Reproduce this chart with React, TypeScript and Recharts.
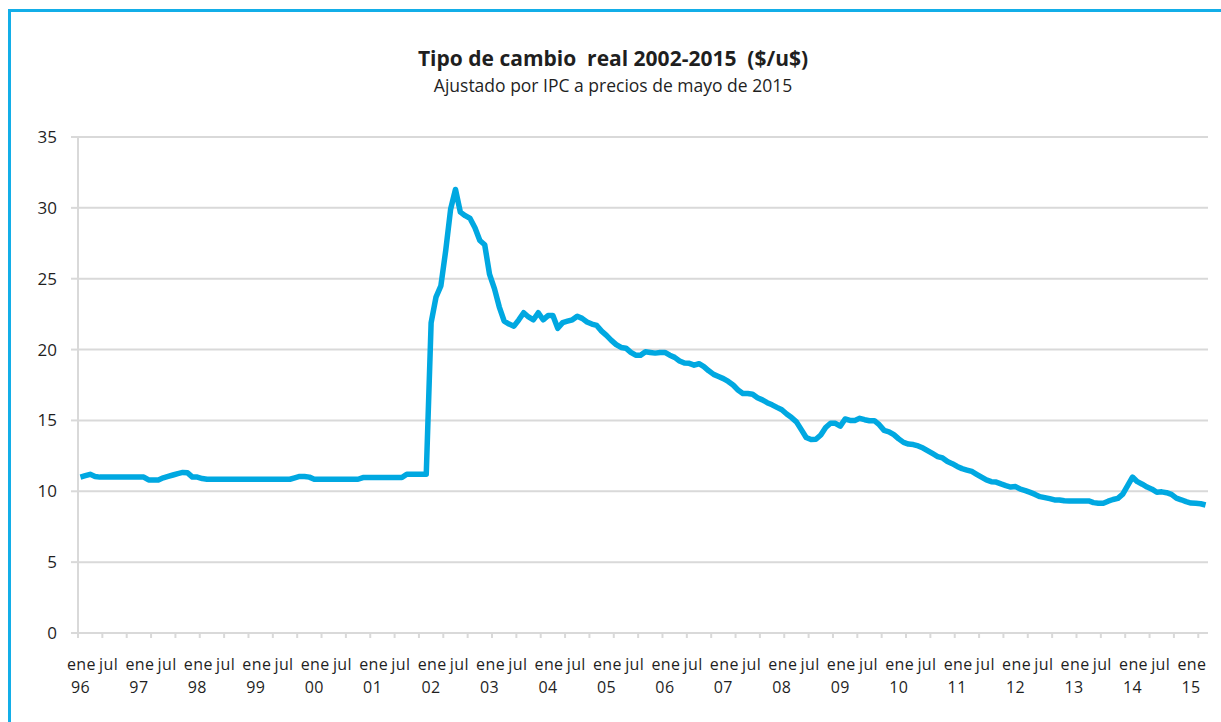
import { LineChart, Line, XAxis, YAxis, CartesianGrid } from 'recharts'

// tipo de cambio real mensual, $/u$ a precios de mayo 2015
const y1996 = [11.0, 11.1, 11.2, 11.05, 11.0, 11.0, 11.0, 11.0, 11.0, 11.0, 11.0, 11.0]
const y1997 = [11.0, 11.0, 10.8, 10.8, 10.8, 10.95, 11.05, 11.15, 11.25, 11.33, 11.3, 11.0]
const y1998 = [11.0, 10.9, 10.85, 10.85, 10.85, 10.85, 10.85, 10.85, 10.85, 10.85, 10.85, 10.85]
const y1999 = [10.85, 10.85, 10.85, 10.85, 10.85, 10.85, 10.85, 10.85, 10.95, 11.05, 11.05, 11.0]
const y2000 = [10.85, 10.85, 10.85, 10.85, 10.85, 10.85, 10.85, 10.85, 10.85, 10.85, 10.97, 10.97]
const y2001 = [10.97, 10.97, 10.97, 10.97, 10.97, 10.97, 10.97, 11.2, 11.2, 11.2, 11.2, 11.2]
const y2002 = [21.9, 23.7, 24.5, 27.0, 29.9, 31.3, 29.7, 29.45, 29.25, 28.6, 27.7, 27.4]
const y2003 = [25.3, 24.3, 23.0, 22.0, 21.8, 21.65, 22.1, 22.6, 22.3, 22.1, 22.6, 22.1]
const y2004 = [22.4, 22.4, 21.5, 21.9, 22.0, 22.1, 22.35, 22.2, 21.95, 21.8, 21.7, 21.3]
const y2005 = [21.0, 20.65, 20.35, 20.15, 20.1, 19.8, 19.6, 19.6, 19.85, 19.8, 19.75, 19.8]
const y2006 = [19.8, 19.6, 19.45, 19.2, 19.05, 19.03, 18.9, 19.0, 18.8, 18.5, 18.25, 18.1]
const y2007 = [17.95, 17.75, 17.5, 17.15, 16.9, 16.9, 16.85, 16.6, 16.45, 16.25, 16.1, 15.92]
const y2008 = [15.75, 15.45, 15.2, 14.9, 14.35, 13.8, 13.65, 13.67, 13.97, 14.5, 14.8, 14.8]
const y2009 = [14.6, 15.1, 15.0, 15.0, 15.15, 15.05, 14.98, 14.98, 14.7, 14.3, 14.2, 14.0]
const y2010 = [13.7, 13.45, 13.33, 13.3, 13.2, 13.05, 12.85, 12.65, 12.45, 12.35, 12.1, 11.95]
const y2011 = [11.75, 11.6, 11.5, 11.4, 11.2, 11.0, 10.8, 10.68, 10.65, 10.52, 10.4, 10.3]
const y2012 = [10.33, 10.15, 10.05, 9.92, 9.78, 9.62, 9.55, 9.48, 9.39, 9.39, 9.33, 9.32]
const y2013 = [9.32, 9.32, 9.32, 9.32, 9.2, 9.15, 9.15, 9.3, 9.42, 9.5, 9.8, 10.4]
const y2014 = [11.0, 10.68, 10.5, 10.3, 10.15, 9.93, 9.96, 9.9, 9.78, 9.52, 9.4, 9.27]
const y2015 = [9.17, 9.15, 9.12, 9.03]

const SERIES = [
  y1996, y1997, y1998, y1999, y2000, y2001, y2002, y2003, y2004, y2005,
  y2006, y2007, y2008, y2009, y2010, y2011, y2012, y2013, y2014, y2015,
]
const YEAR_LABELS = ['96', '97', '98', '99', '00', '01', '02', '03', '04', '05', '06', '07', '08', '09', '10', '11', '12', '13', '14', '15']
const MONTH_LABELS = ['ene', 'feb', 'mar', 'abr', 'may', 'jun', 'jul', 'ago', 'sep', 'oct', 'nov', 'dic']
const Y_TICKS = [0, 5, 10, 15, 20, 25, 30, 35]

const TITLE = 'Tipo de cambio  real 2002-2015  ($/u$)'
const SUBTITLE = 'Ajustado por IPC a precios de mayo de 2015'

const data = SERIES.flat().map((v, i) => ({ idx: i, tcr: v }))
const last = data.length - 1

// etiquetas ene/jul en el centro de cada mes, marcas cada 5 meses entre categorías
const labelTicks = data.filter(d => d.idx % 6 === 0).map(d => d.idx)
const markTicks: number[] = []
for (let k = 0; k * 5 <= last; k++) markTicks.push(k * 5 - 0.5)
const xTicks = [...labelTicks, ...markTicks].sort((a, b) => a - b)

const FONT = "'Open Sans', 'DejaVu Sans', sans-serif"
const TEXT = '#1f1f1f'
const GRID = '#d9d9d9'
const BLUE = '#00a8e1'

function MonthTick(props: any) {
  const { x, y, payload } = props
  const v = payload.value as number
  if (!Number.isInteger(v)) {
    return <line x1={x} x2={x} y1={y} y2={y + 5} stroke={GRID} strokeWidth={2} />
  }
  const m = v % 12
  return (
    <g fontFamily={FONT} fontSize={16} fill={TEXT}>
      <text x={m === 0 ? x + 1 : x - 1} y={y + 37} textAnchor="middle" letterSpacing={0.4}>
        {MONTH_LABELS[m]}
      </text>
      {m === 0 && (
        <text x={x} y={y + 60} textAnchor="middle" letterSpacing={0.4}>
          {YEAR_LABELS[Math.floor(v / 12)]}
        </text>
      )}
    </g>
  )
}

export default function App() {
  return (
    <div style={{ position: 'absolute', left: 0, top: 0, width: 1221, height: 722, overflow: 'hidden', background: '#fff' }}>
      <div
        style={{
          position: 'absolute',
          left: 8,
          top: 9,
          width: 1400,
          height: 900,
          border: `3px solid #13aee8`,
          boxSizing: 'border-box',
        }}
      />
      <LineChart
        width={1221}
        height={722}
        data={data}
        margin={{ top: 137, right: 13, bottom: 19, left: 18 }}
        style={{ position: 'absolute', left: 0, top: 0 }}
      >
        <CartesianGrid vertical={false} stroke={GRID} strokeWidth={2} />
        <XAxis
          dataKey="idx"
          type="number"
          domain={[-0.5, last + 0.5]}
          ticks={xTicks}
          interval={0}
          height={70}
          tickLine={false}
          tickSize={0}
          tickMargin={0}
          axisLine={{ stroke: GRID, strokeWidth: 2 }}
          tick={MonthTick}
        />
        <YAxis
          domain={[0, 35]}
          ticks={Y_TICKS}
          interval={0}
          width={60}
          tickSize={7}
          tickMargin={14}
          tickLine={{ stroke: GRID, strokeWidth: 2 }}
          axisLine={{ stroke: GRID, strokeWidth: 2 }}
          tick={{ fontFamily: FONT, fontSize: 17, fill: TEXT }}
        />
        <Line
          type="linear"
          dataKey="tcr"
          stroke={BLUE}
          strokeWidth={5.5}
          strokeLinejoin="round"
          dot={false}
          isAnimationActive={false}
        />
      </LineChart>
      <svg width={1221} height={110} style={{ position: 'absolute', left: 0, top: 0 }}>
        <text x={613} y={66} textAnchor="middle" fontFamily={FONT} fontSize={21} fontWeight={700} fill={TEXT} xmlSpace="preserve">
          {TITLE}
        </text>
        <text x={613} y={92} textAnchor="middle" fontFamily={FONT} fontSize={17.5} fill={TEXT}>
          {SUBTITLE}
        </text>
      </svg>
    </div>
  )
}
